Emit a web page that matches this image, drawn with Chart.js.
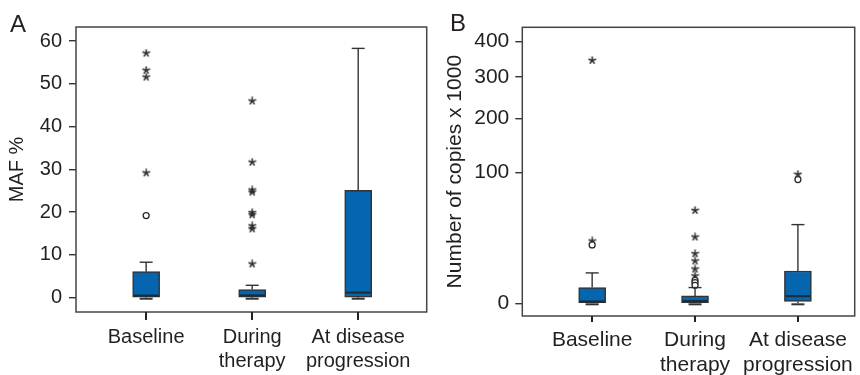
<!DOCTYPE html>
<html>
<head>
<meta charset="utf-8">
<script src="https://cdn.jsdelivr.net/npm/chart.js@4.4.1/dist/chart.umd.min.js"></script>
<style>
    body { margin: 0; background: #fff; }
    #panelA { position: absolute; left: 0; top: 0; width: 432px; height: 375px; }
    #panelB { position: absolute; left: 432px; top: 0; width: 428px; height: 375px; }
</style>
</head>
<body>
<div id="panelA"><canvas id="chartA"></canvas></div>
<div id="panelB"><canvas id="chartB"></canvas></div>
<script>
// Categories (x axis)
const categories = [['Baseline'], ['During', 'therapy'], ['At disease', 'progression']];

// Panel A - MAF %
const mafTicks = [0, 10, 20, 30, 40, 50, 60];
const mafLow = [0, 0, 0];
const mafQ1 = [0.1, 0.15, 0.15];
const mafMedian = [0.5, 0.55, 1.2];
const mafQ3 = [6.1, 1.9, 25.1];
const mafHigh = [8.3, 2.9, 58.3];
const mafCircles = [[19.2], [], []];
const mafStars = [[57.2, 53.2, 51.6, 29.2], [46.0, 31.7, 25.2, 24.7, 19.9, 19.4, 16.8, 16.1, 7.9], []];

// Panel B - Number of copies x 1000 (square-root axis)
const copyTicks = [0, 100, 200, 300, 400];
const copyLow = [0, 0, 0];
const copyQ1 = [0, 0, 0.02];
const copyMedian = [0.02, 0.03, 0.3];
const copyQ3 = [1.45, 0.32, 6.1];
const copyHigh = [5.4, 1.45, 36.2];
const copyCircles = [[19.9], [3.1, 2.5, 1.9], [89.5]];
const copyStars = [[345, 22.7], [50.5, 25.7, 14.4, 10.5, 6.9, 4.4], [97.3]];

const TEXT = '#231f20';
const LINE = '#333333';
const BOX_FILL = '#0565ae';
const BOX_W = 27;
const CAP_W = 13;

Chart.defaults.font.family = '"Liberation Sans", Arial, Helvetica, sans-serif';
Chart.defaults.color = TEXT;

// small 5-armed asterisk used for extreme values
function makeAsterisk(size) {
    const c = document.createElement('canvas');
    c.width = size;
    c.height = size;
    const g = c.getContext('2d');
    g.strokeStyle = '#2a2a2a';
    g.lineWidth = 1.5;
    g.translate(size / 2, size / 2);
    const r = size / 2 - 0.5;
    for (let k = 0; k < 5; k++) {
        const a = -Math.PI / 2 + k * 2 * Math.PI / 5;
        g.beginPath();
        g.moveTo(0, 0);
        g.lineTo(r * Math.cos(a), r * Math.sin(a));
        g.stroke();
    }
    return c;
}
const asterisk = makeAsterisk(9);

function strokeLine(ctx, x1, y1, x2, y2) {
    ctx.beginPath();
    ctx.moveTo(x1, y1);
    ctx.lineTo(x2, y2);
    ctx.stroke();
}

/**
 * Whiskers, caps and medians, drawn through the chart scales
 */
function boxPlugin(stats) {
    return {
        id: 'boxWhiskers',
        afterDatasetsDraw(chart) {
            const { ctx, scales: { x, y } } = chart;
            ctx.save();
            stats.q1.forEach((q1, i) => {
                const cx = x.getPixelForValue(i);
                const yHigh = y.getPixelForValue(stats.high[i]);
                const yLow = y.getPixelForValue(stats.low[i]);
                const yQ1 = y.getPixelForValue(q1);
                const yQ3 = y.getPixelForValue(stats.q3[i]);
                const yMed = y.getPixelForValue(stats.median[i]);

                ctx.strokeStyle = LINE;
                ctx.lineWidth = 1.4;
                strokeLine(ctx, cx, yQ3, cx, yHigh);
                strokeLine(ctx, cx - CAP_W / 2, yHigh, cx + CAP_W / 2, yHigh);
                strokeLine(ctx, cx, yQ1, cx, yLow);
                ctx.lineWidth = 2;
                strokeLine(ctx, cx - CAP_W / 2, yLow + 1, cx + CAP_W / 2, yLow + 1);

                // median
                ctx.strokeStyle = '#1b2b3c';
                ctx.lineWidth = 2;
                strokeLine(ctx, cx - BOX_W / 2 + 1, yMed, cx + BOX_W / 2 - 1, yMed);
            });
            ctx.restore();
        }
    };
}

/**
 * Frame round the plot area, category tick marks and the panel letter
 */
function framePlugin(letter, lx, ly, xTick) {
    return {
        id: 'frame',
        afterDraw(chart) {
            const { ctx, chartArea: a, scales: { x } } = chart;
            ctx.save();
            ctx.strokeStyle = '#444';
            ctx.lineWidth = 1.5;
            ctx.strokeRect(a.left, a.top, a.right - a.left, a.bottom - a.top);

            // category tick marks below the axis
            ctx.strokeStyle = '#222';
            ctx.lineWidth = 2;
            [0, 1, 2].forEach(i => {
                const px = Math.round(x.getPixelForValue(i));
                strokeLine(ctx, px, a.bottom, px, a.bottom + xTick);
            });

            ctx.fillStyle = TEXT;
            ctx.font = '24px "Liberation Sans", Arial, sans-serif';
            ctx.textBaseline = 'alphabetic';
            ctx.fillText(letter, lx, ly);
            ctx.restore();
        }
    };
}

function buildPanel(canvasId, p) {
    const f = p.transform;
    const boxes = p.q1.map((q1, i) => ({ x: i, y: [f(q1), f(p.q3[i])] }));
    const circles = [];
    const stars = [];
    p.circles.forEach((list, i) => list.forEach(v => circles.push({ x: i, y: f(v) })));
    p.stars.forEach((list, i) => list.forEach(v => stars.push({ x: i, y: f(v) })));

    const stats = {
        low: p.low.map(f), q1: p.q1.map(f), median: p.median.map(f),
        q3: p.q3.map(f), high: p.high.map(f)
    };

    return new Chart(document.getElementById(canvasId), {
        type: 'scatter',
        data: {
            datasets: [
                {
                    type: 'bar',
                    data: boxes,
                    backgroundColor: BOX_FILL,
                    borderColor: LINE,
                    borderWidth: 1.5,
                    borderSkipped: false,
                    barThickness: BOX_W,
                    order: 2
                },
                {
                    data: circles,
                    pointStyle: 'circle',
                    radius: 3,
                    borderWidth: 1.3,
                    borderColor: '#2a2a2a',
                    backgroundColor: '#fff',
                    order: 1
                },
                {
                    data: stars,
                    pointStyle: asterisk,
                    radius: 4,
                    order: 1
                }
            ]
        },
        options: {
            responsive: true,
            maintainAspectRatio: false,
            animation: false,
            events: [],
            layout: { padding: { top: p.top, right: p.right, left: 0, bottom: 0 } },
            plugins: { legend: { display: false }, tooltip: { enabled: false } },
            scales: {
                x: {
                    type: 'linear',
                    min: p.xMin,
                    max: p.xMax,
                    offset: false,
                    afterBuildTicks: s => { s.ticks = categories.map((c, i) => ({ value: i })); },
                    afterFit: s => { s.height = p.xHeight; },
                    grid: { display: false, tickLength: p.xTick },
                    border: { display: false },
                    ticks: {
                        autoSkip: false,
                        maxRotation: 0,
                        padding: p.xPad,
                        font: { size: p.fontSize, lineHeight: 1.17 },
                        callback: (v, i) => categories[i]
                    }
                },
                y: {
                    type: 'linear',
                    min: p.yMin,
                    max: p.yMax,
                    afterBuildTicks: s => { s.ticks = p.ticks.map(t => ({ value: f(t) })); },
                    afterFit: s => { s.width = p.yWidth; },
                    grid: {
                        offset: false,
                        drawOnChartArea: false,
                        drawTicks: true,
                        tickLength: 7,
                        color: LINE,
                        lineWidth: 1.4
                    },
                    border: { display: false },
                    ticks: {
                        padding: p.yPad,
                        font: { size: p.fontSize },
                        callback: (v, i) => String(p.ticks[i])
                    },
                    title: {
                        display: true,
                        text: p.title,
                        font: { size: p.titleSize },
                        padding: { top: p.titlePad, bottom: 0 }
                    }
                }
            }
        },
        plugins: [boxPlugin(stats), framePlugin(p.letter, p.letterX, p.letterY, p.xTick)]
    });
}

buildPanel('chartA', {
    transform: v => v,
    low: mafLow, q1: mafQ1, median: mafMedian, q3: mafQ3, high: mafHigh,
    circles: mafCircles, stars: mafStars, ticks: mafTicks,
    xMin: -0.6615, xMax: 2.646, yMin: -3.34, yMax: 63.3,
    top: 27, right: 1, yWidth: 76, xHeight: 63,
    xTick: 8, xPad: 6, yPad: 7, fontSize: 20,
    title: 'MAF %', titleSize: 20, titlePad: 5.5,
    letter: 'A', letterX: 10, letterY: 32
});

buildPanel('chartB', {
    transform: v => Math.sqrt(v),
    low: copyLow, q1: copyQ1, median: copyMedian, q3: copyQ3, high: copyHigh,
    circles: copyCircles, stars: copyStars, ticks: copyTicks,
    xMin: -0.679, xMax: 2.552, yMin: -0.97, yMax: 21.1,
    top: 27.3, right: 0, yWidth: 90.3, xHeight: 59,
    xTick: 6, xPad: 6, yPad: 6, fontSize: 21,
    title: 'Number of copies x 1000', titleSize: 21, titlePad: 10.5,
    letter: 'B', letterX: 18, letterY: 31
});
</script>
</body>
</html>
